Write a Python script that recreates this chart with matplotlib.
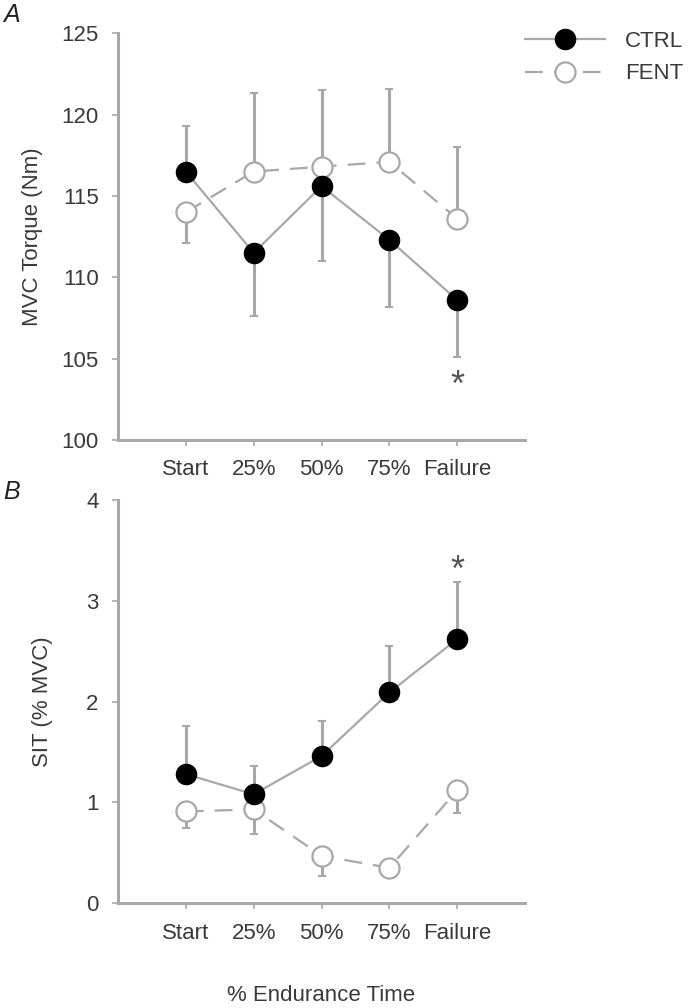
import matplotlib.pyplot as plt

# data
labels = ['Start', '25%', '50%', '75%', 'Failure']

ctrl_mvc = [116.5, 111.5, 115.6, 112.3, 108.6]
ctrl_mvc_err = [2.8, 3.9, 4.6, 4.1, 3.5]
fent_mvc = [114.0, 116.5, 116.8, 117.1, 113.6]
fent_mvc_err = [1.9, 4.8, 4.7, 4.5, 4.4]

ctrl_sit = [1.28, 1.08, 1.46, 2.09, 2.62]
ctrl_sit_err = [0.48, 0.28, 0.35, 0.46, 0.57]
fent_sit = [0.91, 0.93, 0.47, 0.35, 1.12]
fent_sit_err = [0.16, 0.24, 0.20, 0.09, 0.23]

GREY = '#a8a8a8'
TXT = '#3a3a3a'
plt.rcParams['font.family'] = ['Liberation Sans', 'DejaVu Sans']
plt.rcParams['font.size'] = 16


def style_axes(ax, ylim, yticks, ylabel, label_x, show_xlabel=False):
    ax.set_xlim(0, 6)
    ax.set_ylim(*ylim)
    ax.set_yticks(yticks)
    ax.set_xticks(range(1, 6))
    ax.set_xticklabels(labels)
    for s in ['top', 'right']:
        ax.spines[s].set_visible(False)
    for s in ['left', 'bottom']:
        ax.spines[s].set_color(GREY)
        ax.spines[s].set_linewidth(2.2)
    ax.tick_params(colors=GREY, labelcolor=TXT, labelsize=16, length=4, width=1.2, pad=10)
    ax.set_ylabel(ylabel, color=TXT, fontsize=16)
    ax.yaxis.set_label_coords(label_x, 0.5)
    if show_xlabel:
        ax.set_xlabel('% Endurance Time', color=TXT, fontsize=16, labelpad=30)


def draw(ax, ctrl, ctrl_err, fent, fent_err):
    x = list(range(1, 6))
    # one-sided error bars: upper for the higher series, lower for the lower one
    c_lo, c_hi, f_lo, f_hi = [], [], [], []
    for c, ce, f, fe in zip(ctrl, ctrl_err, fent, fent_err):
        if c >= f:
            c_lo.append(0); c_hi.append(ce); f_lo.append(fe); f_hi.append(0)
        else:
            c_lo.append(ce); c_hi.append(0); f_lo.append(0); f_hi.append(fe)
    ax.errorbar(x, ctrl, yerr=[c_lo, c_hi], fmt='none', ecolor=GREY, elinewidth=2.2,
                capsize=3, capthick=1.5, zorder=1)
    ax.errorbar(x, fent, yerr=[f_lo, f_hi], fmt='none', ecolor=GREY, elinewidth=2.2,
                capsize=3, capthick=1.5, zorder=1)
    ax.plot(x, ctrl, '-', color=GREY, lw=1.6, marker='o', ms=14.5, mfc='black',
            mec='black', label='CTRL', zorder=3)
    ax.plot(x, fent, color=GREY, lw=1.6, ls=(0, (8, 5)), marker='o', ms=14.5, mfc='white',
            mec=GREY, mew=1.6, label='FENT', zorder=2)


fig = plt.figure(figsize=(6.9, 10.08), dpi=100)
ax1 = fig.add_axes([0.171, 0.5635, 0.590, 0.4035])
ax2 = fig.add_axes([0.171, 0.1040, 0.590, 0.4000])

draw(ax1, ctrl_mvc, ctrl_mvc_err, fent_mvc, fent_mvc_err)
style_axes(ax1, (100, 125), [100, 105, 110, 115, 120, 125], 'MVC Torque (Nm)', -0.185)
ax1.text(5, 103.3, '*', ha='center', va='center', fontsize=26, color='#555555')

draw(ax2, ctrl_sit, ctrl_sit_err, fent_sit, fent_sit_err)
style_axes(ax2, (0, 4), [0, 1, 2, 3, 4], 'SIT (% MVC)', -0.16, show_xlabel=True)
ax2.text(5, 3.29, '*', ha='center', va='center', fontsize=26, color='#555555')

leg = ax1.legend(loc='upper left', bbox_to_anchor=(1.0, 1.005), frameon=False,
                 borderpad=0, borderaxespad=0, handlelength=3.6, fontsize=16,
                 labelspacing=0.5, handletextpad=0.9)
for t in leg.get_texts():
    t.set_color(TXT)

fig.text(0.005, 0.985, 'A', fontsize=18, style='italic', color='#222222', va='center')
fig.text(0.005, 0.512, 'B', fontsize=18, style='italic', color='#222222', va='center')

fig.savefig('out.png', dpi=100)
